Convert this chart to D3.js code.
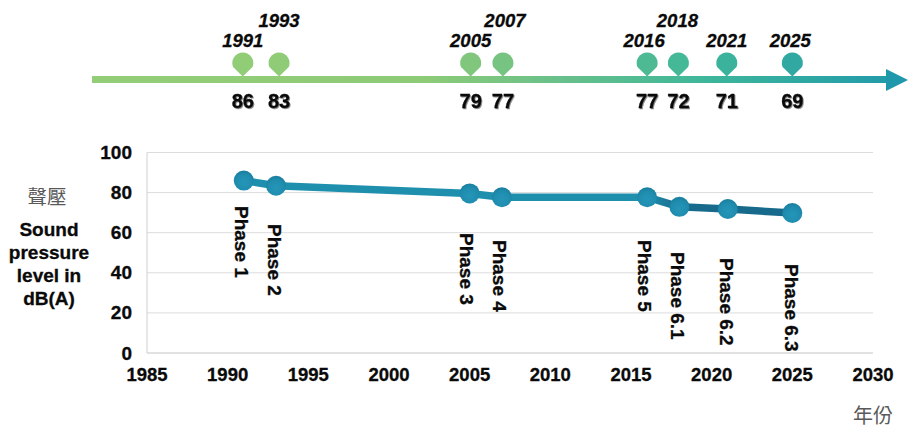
<!DOCTYPE html>
<html>
<head>
<meta charset="utf-8">
<script src="https://cdn.jsdelivr.net/npm/d3@7/dist/d3.min.js"></script>
<style>
  body { margin: 0; background: #fff; }
  svg { display: block; }
  text { font-family: "Liberation Sans", Arial, sans-serif; fill: #0a0a0a; stroke: #0a0a0a; stroke-width: 0.3px; }
  .cjk { font-family: "Noto Sans CJK TC", sans-serif; fill: #595959; stroke: none; font-weight: 400; }
</style>
</head>
<body>
<script>
const years = [1991, 1993, 2005, 2007, 2016, 2018, 2021, 2025];
const levels = [86, 83, 79, 77, 77, 72, 71, 69];
// where the points actually sit on the plot, slightly above the printed labels
const plotted = [86, 83.4, 79.6, 77.7, 77.7, 72.9, 71.8, 69.8];
const phases = ["Phase 1", "Phase 2", "Phase 3", "Phase 4", "Phase 5", "Phase 6.1", "Phase 6.2", "Phase 6.3"];
const xTicks = [1985, 1990, 1995, 2000, 2005, 2010, 2015, 2020, 2025, 2030];
const yTicks = [0, 20, 40, 60, 80, 100];
const unitLines = ["Sound", "pressure", "level in", "dB(A)"];

const w = 924;
const h = 440;

// hand placed labels, same order as years
const raised = [1993, 2007, 2018];
const pinNudge = [-1, 3, 1, 1, 0, -1, -1, 0];
const yearNudge = [-1, 3, 1, 3, -3, -2, -1, -2];
const phaseTop = [206, 224, 233, 240, 240, 252, 258, 264];
const phaseNudge = [-2, -1, -3, -2, -2, -2, -1, -1];

const svg = d3.select("body").append("svg").attr("width", w).attr("height", h);
const defs = svg.append("defs");

const xScale = d3.scaleLinear().domain([1985, 2030]).range([147, 873]);
const yScale = d3.scaleLinear().domain([0, 100]).range([353, 152.5]);

// timeline colours, also used for the pins
const ramp = d3.scaleLinear()
  .domain([92, 420, 560, 700, 908])
  .range(["#93cd78", "#8ecb76", "#68c08a", "#3fb79a", "#1f98ab"]);

const railGrad = defs.append("linearGradient")
  .attr("id", "rail")
  .attr("gradientUnits", "userSpaceOnUse")
  .attr("x1", 92).attr("x2", 908).attr("y1", 0).attr("y2", 0);
ramp.domain().forEach((d) => {
  railGrad.append("stop").attr("offset", (d - 92) / (908 - 92)).attr("stop-color", ramp(d));
});

const lineGrad = defs.append("linearGradient")
  .attr("id", "trend")
  .attr("gradientUnits", "userSpaceOnUse")
  .attr("x1", xScale(2016)).attr("x2", xScale(2018)).attr("y1", 0).attr("y2", 0);
lineGrad.append("stop").attr("offset", 0).attr("stop-color", "#1f8fae");
lineGrad.append("stop").attr("offset", 1).attr("stop-color", "#176a8b");

const ball = defs.append("radialGradient").attr("id", "ball").attr("cy", 0.62).attr("r", 0.6);
ball.append("stop").attr("offset", 0).attr("stop-color", "#2596b8");
ball.append("stop").attr("offset", 0.7).attr("stop-color", "#1f8cae");
ball.append("stop").attr("offset", 1).attr("stop-color", "#1a7f9f");

// timeline
svg.append("rect")
  .attr("x", 92).attr("y", 76)
  .attr("width", 796).attr("height", 7)
  .attr("fill", "url(#rail)");
svg.append("path")
  .attr("d", "M886,69L908,80L886,91Z")
  .attr("fill", "#1f98ab");

const pins = svg.selectAll(".pin")
  .data(years)
  .enter()
  .append("g")
  .attr("class", "pin")
  .attr("transform", (d, i) => "translate(" + (xScale(d) + pinNudge[i]) + ",63)");
pins.append("path")
  .attr("d", "M-9.7,4 A10.5,10.5 0 1 1 9.7,4 L0,13.5 Z")
  .attr("fill", (d, i) => ramp(xScale(d) + pinNudge[i]));

svg.selectAll(".year")
  .data(years)
  .enter()
  .append("text")
  .attr("class", "year")
  .attr("x", (d, i) => xScale(d) + yearNudge[i])
  .attr("y", (d) => (raised.includes(d) ? 27 : 47))
  .attr("text-anchor", "middle")
  .attr("font-size", 18.5)
  .attr("font-weight", "bold")
  .attr("font-style", "italic")
  .text((d) => d);

svg.selectAll(".level")
  .data(levels)
  .enter()
  .append("text")
  .attr("class", "level")
  .attr("x", (d, i) => xScale(years[i]) + pinNudge[i])
  .attr("y", 108)
  .attr("text-anchor", "middle")
  .attr("font-size", 20)
  .attr("font-weight", "bold")
  .style("filter", "drop-shadow(1px 1px 0.7px #888)")
  .text((d) => d);

// plot
svg.append("g")
  .selectAll("line")
  .data(yTicks)
  .enter()
  .append("line")
  .attr("x1", 147)
  .attr("x2", 873)
  .attr("y1", (d) => yScale(d))
  .attr("y2", (d) => yScale(d))
  .attr("stroke", (d) => (d === 0 ? "#c4c4c4" : "#dcdcdc"))
  .attr("stroke-width", 1);
svg.append("line")
  .attr("x1", 147).attr("x2", 147)
  .attr("y1", yScale(100)).attr("y2", yScale(0))
  .attr("stroke", "#d0d0d0");

svg.selectAll(".ytick")
  .data(yTicks)
  .enter()
  .append("text")
  .attr("class", "ytick")
  .attr("x", 132)
  .attr("y", (d) => yScale(d) + 6.5)
  .attr("text-anchor", "end")
  .attr("font-size", 19)
  .attr("font-weight", "bold")
  .text((d) => d);

svg.selectAll(".xtick")
  .data(xTicks)
  .enter()
  .append("text")
  .attr("class", "xtick")
  .attr("x", (d) => xScale(d))
  .attr("y", 381)
  .attr("text-anchor", "middle")
  .attr("font-size", 18.5)
  .attr("font-weight", "bold")
  .text((d) => d);

const line = d3.line()
  .x((d, i) => xScale(years[i]))
  .y((d) => yScale(d));

svg.append("path")
  .datum(plotted)
  .attr("d", line)
  .attr("fill", "none")
  .attr("stroke", "url(#trend)")
  .attr("stroke-width", 7.5)
  .attr("stroke-linejoin", "round");

svg.selectAll(".dot")
  .data(plotted)
  .enter()
  .append("circle")
  .attr("class", "dot")
  .attr("cx", (d, i) => xScale(years[i]))
  .attr("cy", (d) => yScale(d))
  .attr("r", 10)
  .attr("fill", "url(#ball)");

svg.selectAll(".phase")
  .data(phases)
  .enter()
  .append("text")
  .attr("class", "phase")
  .attr("transform", (d, i) =>
    "translate(" + (xScale(years[i]) + phaseNudge[i]) + "," + phaseTop[i] + ") rotate(90)")
  .attr("dy", "0.35em")
  .attr("font-size", 19)
  .attr("font-weight", "bold")
  .text((d) => d);

// axis titles
svg.append("text")
  .attr("class", "cjk")
  .attr("x", 47).attr("y", 204)
  .attr("text-anchor", "middle")
  .attr("font-size", 19.5)
  .text("聲壓");

svg.selectAll(".unit")
  .data(unitLines)
  .enter()
  .append("text")
  .attr("class", "unit")
  .attr("x", 49)
  .attr("y", (d, i) => 236 + i * 23)
  .attr("text-anchor", "middle")
  .attr("font-size", 19)
  .attr("font-weight", "bold")
  .text((d) => d);

svg.append("text")
  .attr("class", "cjk")
  .attr("x", 873).attr("y", 423)
  .attr("text-anchor", "middle")
  .attr("font-size", 20)
  .text("年份");
</script>
</body>
</html>
